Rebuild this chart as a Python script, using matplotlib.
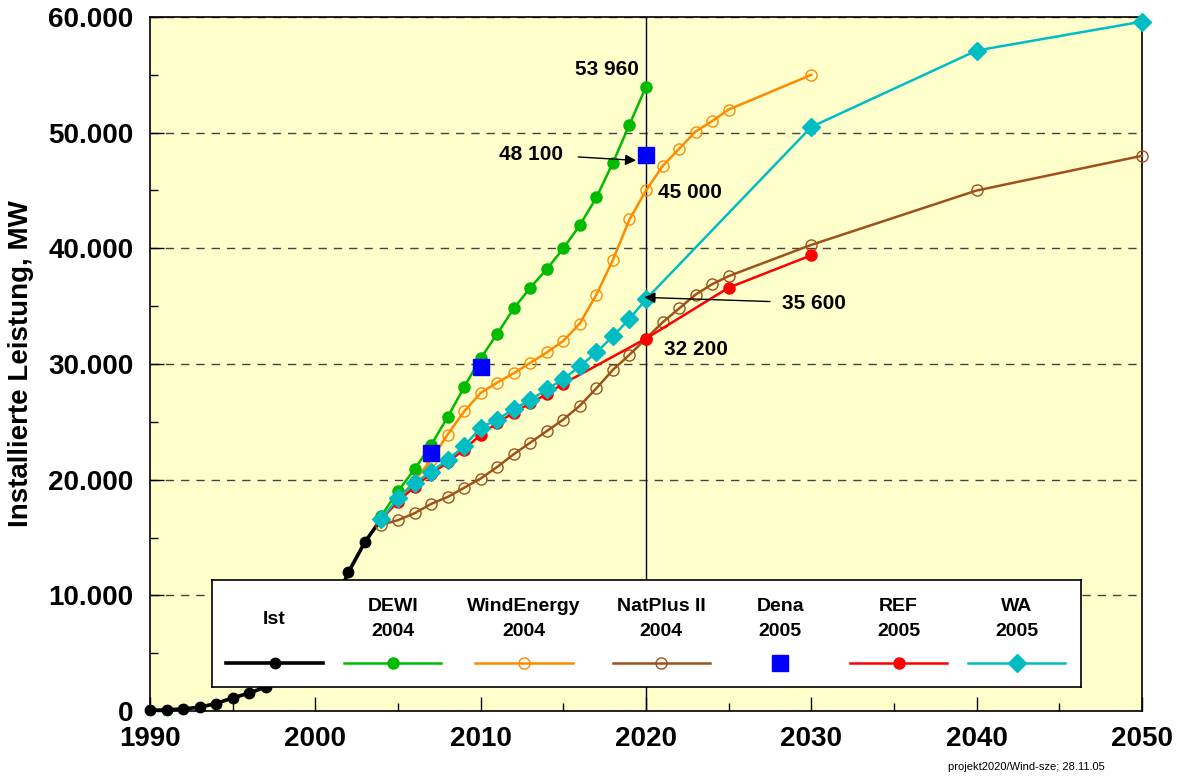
import matplotlib.pyplot as plt
from matplotlib.lines import Line2D
from matplotlib.ticker import FuncFormatter, MultipleLocator

plt.rcParams['font.family'] = ['Liberation Sans', 'DejaVu Sans']

# installed capacity in MW
ist_years = list(range(1990, 2005))
ist_mw = [55, 106, 174, 334, 643, 1137, 1546, 2082, 2875, 4444,
          6113, 8754, 11994, 14609, 16629]

dewi_years = list(range(2004, 2021))
dewi_mw = [16900, 19000, 20900, 23000, 25400, 28000, 30500, 32600, 34800,
           36600, 38200, 40000, 42000, 44400, 47400, 50700, 53960]

wind_years = list(range(2004, 2026)) + [2030]
wind_mw = [16600, 18300, 19900, 21700, 23900, 25900, 27500, 28400, 29200,
           30100, 31000, 32000, 33500, 36000, 39000, 42500, 45000, 47100,
           48600, 50100, 51000, 52000, 55000]

natplus_years = list(range(2004, 2026)) + [2030, 2040, 2050]
natplus_mw = [16100, 16500, 17100, 17900, 18500, 19300, 20100, 21100, 22200,
              23200, 24200, 25200, 26400, 27900, 29500, 30800, 32200, 33600,
              34800, 36000, 36900, 37600, 40300, 45000, 48000]

dena_years = [2007, 2010, 2020]
dena_mw = [22300, 29700, 48100]

ref_years = list(range(2004, 2016)) + [2020, 2025, 2030]
ref_mw = [16600, 18100, 19400, 20500, 21500, 22600, 23900, 24900, 25800,
          26600, 27400, 28300, 32200, 36600, 39400]

wa_years = list(range(2004, 2021)) + [2030, 2040, 2050]
wa_mw = [16600, 18400, 19700, 20700, 21700, 22900, 24500, 25200, 26100,
         26900, 27800, 28700, 29800, 31000, 32400, 33900, 35600, 50500,
         57100, 59600]

legend_labels = ['Ist', 'DEWI\n2004', 'WindEnergy\n2004', 'NatPlus II\n2004',
                 'Dena\n2005', 'REF\n2005', 'WA\n2005']

GREEN = '#00BB00'
ORANGE = '#FF8A00'
BROWN = '#A0501A'
RED = '#FF0000'
CYAN = '#00BDC4'
BLUE = '#0000FF'

fig = plt.figure(figsize=(11.8, 7.76), dpi=100)
ax = fig.add_axes([150 / 1180, 65 / 776, 992 / 1180, 694 / 776])
ax.set_facecolor('#FFFFCC')

styles = {
    'ist': dict(color='black', lw=2.6, marker='o', ms=7.5, mfc='black', mec='black'),
    'dewi': dict(color=GREEN, lw=1.8, marker='o', ms=8, mfc=GREEN, mec=GREEN),
    'wind': dict(color=ORANGE, lw=1.8, marker='o', ms=8, mfc='none', mec=ORANGE, mew=1),
    'nat': dict(color=BROWN, lw=1.8, marker='o', ms=8, mfc='none', mec=BROWN, mew=1),
    'dena': dict(color=BLUE, lw=0, marker='s', ms=12, mfc=BLUE, mec=BLUE),
    'ref': dict(color=RED, lw=1.8, marker='o', ms=8, mfc=RED, mec=RED),
    'wa': dict(color=CYAN, lw=1.8, marker='D', ms=9, mfc=CYAN, mec=CYAN),
}

ax.plot(ist_years, ist_mw, clip_on=False, zorder=3, **styles['ist'])
ax.plot(natplus_years, natplus_mw, clip_on=False, zorder=3, **styles['nat'])
ax.plot(wind_years, wind_mw, clip_on=False, zorder=3, **styles['wind'])
ax.plot(dewi_years, dewi_mw, clip_on=False, zorder=4, **styles['dewi'])
ax.plot(ref_years, ref_mw, clip_on=False, zorder=4, **styles['ref'])
ax.plot(wa_years, wa_mw, clip_on=False, zorder=5, **styles['wa'])
ax.plot(dena_years, dena_mw, clip_on=False, zorder=6, **styles['dena'])

ax.axvline(2020, color='black', lw=1, zorder=2)

ax.set_xlim(1990, 2050)
ax.set_ylim(0, 60000)
ax.xaxis.set_major_locator(MultipleLocator(10))
ax.xaxis.set_minor_locator(MultipleLocator(5))
ax.yaxis.set_major_locator(MultipleLocator(10000))
ax.yaxis.set_minor_locator(MultipleLocator(5000))
ax.yaxis.set_major_formatter(FuncFormatter(lambda v, p: f'{int(v):,}'.replace(',', '.')))
ax.tick_params(which='major', direction='in', length=10, width=1, labelsize=20, pad=11)
ax.tick_params(which='minor', direction='in', length=5.5, width=1)
ax.tick_params(axis='y', which='major', pad=12)
for lab in ax.get_xticklabels() + ax.get_yticklabels():
    lab.set_fontweight('bold')

ax.grid(axis='y', which='major', color='#444444', lw=1, linestyle=(0, (6, 5)), zorder=1)
ax.set_axisbelow(True)
for s in ax.spines.values():
    s.set_linewidth(1.2)

ax.set_ylabel('Installierte Leistung, MW', fontsize=20, fontweight='bold')
ax.yaxis.set_label_coords(-0.117, 0.5)

# value labels
txt = dict(fontsize=15, fontweight='bold', va='center', zorder=7)
ax.text(2017.65, 55450, '53 960', ha='center', **txt)
ax.text(2014.95, 48150, '48 100', ha='right', **txt)
ax.text(2020.75, 44800, '45 000', ha='left', **txt)
ax.text(2028.2, 35250, '35 600', ha='left', **txt)
ax.text(2021.1, 31270, '32 200', ha='left', **txt)
arrow = dict(arrowstyle='-|>', color='black', lw=1, mutation_scale=16, shrinkA=0, shrinkB=0)
ax.annotate('', xy=(2019.4, 47600), xytext=(2015.9, 47900), arrowprops=arrow, zorder=7)
ax.annotate('', xy=(2019.9, 35760), xytext=(2027.5, 35400), arrowprops=arrow, zorder=7)

# legend box with labels above the line samples
lax = fig.add_axes([212 / 1180, 89 / 776, 869 / 1180, 107 / 776], zorder=10)
lax.set_xlim(0, 1)
lax.set_ylim(0, 1)
lax.set_xticks([])
lax.set_yticks([])
lax.set_facecolor('white')
for s in lax.spines.values():
    s.set_linewidth(1.2)
col_x = [0.072, 0.208, 0.359, 0.517, 0.654, 0.790, 0.926]
keys = ['ist', 'dewi', 'wind', 'nat', 'dena', 'ref', 'wa']
for cx, key, label in zip(col_x, keys, legend_labels):
    lax.text(cx, 0.635, label, ha='center', va='center', fontsize=14,
             fontweight='bold', linespacing=1.55)
    st = dict(styles[key])
    marker_kw = {k: st.pop(k) for k in ['marker', 'ms', 'mfc', 'mec', 'mew'] if k in st}
    if key != 'dena':
        lax.add_line(Line2D([cx - 0.056, cx + 0.056], [0.224, 0.224], **st))
    lax.add_line(Line2D([cx], [0.224], linestyle='none', **marker_kw))

fig.text(0.936, 0.011, 'projekt2020/Wind-sze; 28.11.05', ha='right', va='center', fontsize=8)

fig.savefig('out.png', dpi=100)
